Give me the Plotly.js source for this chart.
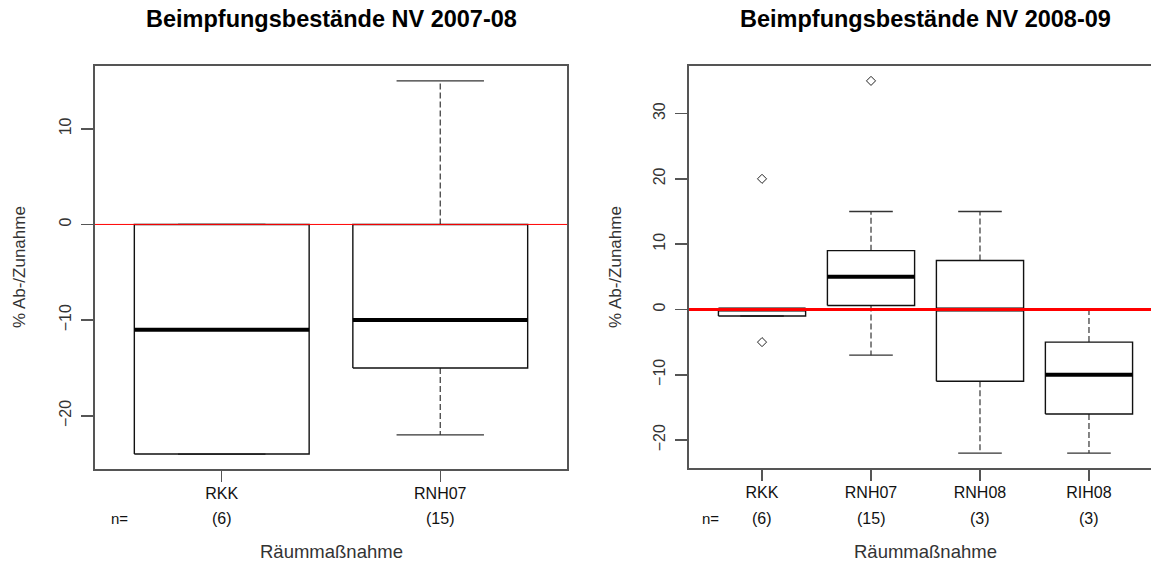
<!DOCTYPE html>
<html>
<head>
<meta charset="utf-8">
<script src="https://cdn.plot.ly/plotly-3.0.1.min.js"></script>
<style>
  html, body { margin: 0; padding: 0; background: #fff; overflow: hidden; }
  #chart { width: 1170px; height: 565px; }
</style>
</head>
<body>
<div id="chart"></div>
<script>
// Beimpfungsbestände NV 2007-08: five-number summaries per Räummaßnahme
const cats0708   = ['RKK', 'RNH07'];
const n0708      = [6, 15];
const lo0708     = [-24, -22];
const q1_0708    = [-24, -15];
const med0708    = [-11, -10];
const q3_0708    = [0, 0];
const hi0708     = [0, 15];
const outPos0708 = [];
const outVal0708 = [];

// Beimpfungsbestände NV 2008-09
const cats0809   = ['RKK', 'RNH07', 'RNH08', 'RIH08'];
const n0809      = [6, 15, 3, 3];
const lo0809     = [-1, -7, -22, -22];
const q1_0809    = [-1, 0.6, -11, -16];
const med0809    = [0, 5, 0, -10];
const q3_0809    = [0, 9, 7.5, -5];
const hi0809     = [0, 15, 15, 0];
const outPos0809 = [1, 1, 2];      // index (1-based) of the group
const outVal0809 = [20, -5, 35];

const yTicks0708 = [-20, -10, 0, 10];
const yTicks0809 = [-20, -10, 0, 10, 20, 30];

const W = 1170, H = 565;
const FONT = 'Liberation Sans, Arial, sans-serif';
const BOXW = 0.8, STAPLEW = 0.4;

// build R-style boxplot traces (whiskers dashed, solid staples, heavy median)
function boxTraces(lo, q1, med, q3, hi, outPos, outVal, xa, ya) {
  const wx = [], wy = [], sx = [], sy = [], bx = [], by = [], mx = [], my = [];
  for (let k = 0; k < q1.length; k++) {
    const c = k + 1;
    wx.push(c, c, null, c, c, null);
    wy.push(q3[k], hi[k], null, q1[k], lo[k], null);
    sx.push(c - STAPLEW / 2, c + STAPLEW / 2, null, c - STAPLEW / 2, c + STAPLEW / 2, null);
    sy.push(hi[k], hi[k], null, lo[k], lo[k], null);
    bx.push(c - BOXW / 2, c + BOXW / 2, c + BOXW / 2, c - BOXW / 2, c - BOXW / 2, null);
    by.push(q1[k], q1[k], q3[k], q3[k], q1[k], null);
    mx.push(c - BOXW / 2, c + BOXW / 2, null);
    my.push(med[k], med[k], null);
  }
  const base = { type: 'scatter', mode: 'lines', xaxis: xa, yaxis: ya, hoverinfo: 'skip', showlegend: false };
  const tr = [
    Object.assign({}, base, { x: wx, y: wy, line: { color: '#444', width: 1.3, dash: '6px,3px' } }),
    Object.assign({}, base, { x: sx, y: sy, line: { color: '#333', width: 1.3 } }),
    Object.assign({}, base, { x: bx, y: by, line: { color: '#111', width: 1.4 } }),
    Object.assign({}, base, { x: mx, y: my, line: { color: '#000', width: 4 } })
  ];
  if (outVal.length) {
    tr.push({
      type: 'scatter', mode: 'markers', xaxis: xa, yaxis: ya, hoverinfo: 'skip', showlegend: false,
      x: outPos, y: outVal,
      marker: { symbol: 'diamond-open', size: 7, color: '#222', line: { width: 1, color: '#222' } }
    });
  }
  return tr;
}

const data = [].concat(
  boxTraces(lo0708, q1_0708, med0708, q3_0708, hi0708, outPos0708, outVal0708, 'x', 'y'),
  boxTraces(lo0809, q1_0809, med0809, q3_0809, hi0809, outPos0809, outVal0809, 'x2', 'y2')
);

const frame = { showline: true, linecolor: '#555', linewidth: 2, mirror: true, showgrid: false, zeroline: false,
                ticks: 'outside', tickcolor: '#555', tickwidth: 1.5, fixedrange: true };

function xAxis(domain, range, cats) {
  return Object.assign({}, frame, {
    domain: domain, range: range,
    tickvals: cats.map((c, i) => i + 1), ticktext: cats,
    ticklen: 11, tickfont: { family: FONT, size: 16, color: '#111' }, ticklabelstandoff: -2
  });
}
function yAxis(domain, range, ticks) {
  return Object.assign({}, frame, {
    domain: domain, range: range, tickvals: ticks, tickangle: -90,
    ticklen: 12, tickfont: { family: FONT, size: 16, color: '#333' }, ticklabelstandoff: 4
  });
}

const px = v => v / W;
const py = v => 1 - v / H;

// group sizes printed under the category names
const annotations = [];
function nRow(cats, ns, xa, nX) {
  annotations.push({ xref: 'paper', yref: 'paper', x: px(nX), y: py(518), text: 'n=', showarrow: false,
                     xanchor: 'center', yanchor: 'middle', font: { family: FONT, size: 15, color: '#111' } });
  ns.forEach((n, i) => annotations.push({
    xref: xa, yref: 'paper', x: i + 1, y: py(518), text: '(' + n + ')', showarrow: false,
    xanchor: 'center', yanchor: 'middle', font: { family: FONT, size: 16, color: '#111' }
  }));
}
nRow(cats0708, n0708, 'x', 119);
nRow(cats0809, n0809, 'x2', 711);

function titles(cx, text) {
  annotations.push({ xref: 'paper', yref: 'paper', x: px(cx), y: py(19), text: '<b>' + text + '</b>',
                     showarrow: false, xanchor: 'center', yanchor: 'middle',
                     font: { family: FONT, size: 23.5, color: '#000' } });
  annotations.push({ xref: 'paper', yref: 'paper', x: px(cx), y: py(551), text: 'Räummaßnahme',
                     showarrow: false, xanchor: 'center', yanchor: 'middle',
                     font: { family: FONT, size: 18.5, color: '#333' } });
}
titles(331, 'Beimpfungsbestände NV 2007-08');
titles(925, 'Beimpfungsbestände NV 2008-09');

function yTitle(x) {
  annotations.push({ xref: 'paper', yref: 'paper', x: px(x), y: py(267), text: '% Ab-/Zunahme', textangle: -90,
                     showarrow: false, xanchor: 'center', yanchor: 'middle',
                     font: { family: FONT, size: 17, color: '#333' } });
}
yTitle(19);
yTitle(615);

// reference lines at 0 %
const shapes = [
  { type: 'line', xref: 'x domain', yref: 'y', x0: 0, x1: 1, y0: 0, y1: 0, line: { color: '#ff0000', width: 1 } },
  { type: 'line', xref: 'x2 domain', yref: 'y2', x0: 0, x1: 1, y0: 0, y1: 0, line: { color: '#ff0000', width: 3 } }
];

const layout = {
  width: W, height: H,
  margin: { l: 0, r: 0, t: 0, b: 0 },
  paper_bgcolor: '#fff', plot_bgcolor: '#fff',
  showlegend: false,
  xaxis: xAxis([px(95), px(567)], [0.42, 2.58], cats0708),
  yaxis: yAxis([1 - 469 / H, 1 - 66 / H], [-25.56, 16.56], yTicks0708),
  xaxis2: Object.assign(xAxis([px(689), px(1162)], [0.33, 4.67], cats0809), { anchor: 'y2' }),
  yaxis2: Object.assign(yAxis([1 - 468 / H, 1 - 66 / H], [-24.28, 37.28], yTicks0809), { anchor: 'x2' }),
  annotations: annotations,
  shapes: shapes
};

Plotly.newPlot('chart', data, layout, { staticPlot: true, displayModeBar: false });
</script>
</body>
</html>
